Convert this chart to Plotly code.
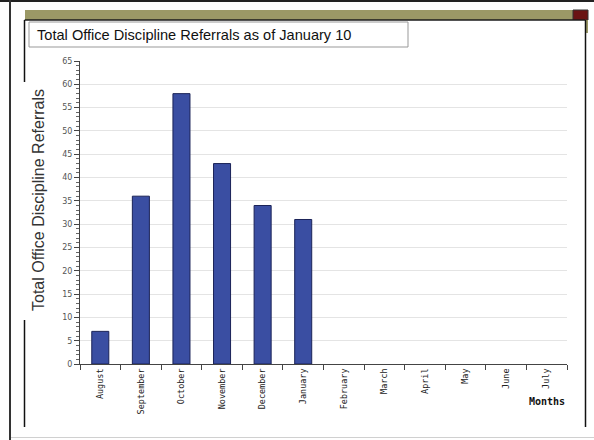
import plotly.graph_objects as go

months = ["August", "September", "October", "November", "December", "January",
          "February", "March", "April", "May", "June", "July"]
referrals = [7, 36, 58, 43, 34, 31, None, None, None, None, None, None]
y_ticks = list(range(0, 70, 5))

title_text = "Total Office Discipline Referrals as of January 10"
y_title = "Total Office Discipline Referrals"
x_title = "Months"

W, H = 594, 440
ML, MR, MT, MB = 80, 27, 61, 76
PW, PH = W - ML - MR, H - MT - MB


def px(x):
    return (x - ML) / PW


def py(y):
    return (H - MB - y) / PH


fig = go.Figure()
fig.add_trace(go.Bar(
    x=months, y=referrals,
    marker=dict(color="#3a4ea2", line=dict(color="#1b2358", width=1)),
    hoverinfo="x+y",
))

shapes = []


def rect(x0, y0, x1, y1, fill, line_color=None, lw=0):
    shapes.append(dict(type="rect", xref="paper", yref="paper",
                       x0=px(x0), x1=px(x1), y0=py(y1), y1=py(y0),
                       fillcolor=fill, line=dict(color=line_color or fill, width=lw),
                       layer="above"))


def line(x0, y0, x1, y1, color, w=1):
    shapes.append(dict(type="line", xref="paper", yref="paper",
                       x0=px(x0), x1=px(x1), y0=py(y0), y1=py(y1),
                       line=dict(color=color, width=w), layer="above"))


# slide frame
rect(0, 0, 594, 2, "#222222")
rect(9, 0, 11, 440, "#333333")
line(11, 437.5, 594, 437.5, "#d0d0d0", 1)
# header bar
rect(25, 10, 573, 20, "#9b9966")
rect(573, 10, 588, 20, "#6a1414", "#333333", 1)
rect(585, 20, 588, 33, "#9b9966")
line(25, 20, 573, 20, "#333333", 1)
# panel borders
line(24.5, 20, 24.5, 82, "#111111", 1.5)
line(24.5, 320, 24.5, 427, "#111111", 1.5)
line(24.5, 20, 585, 20, "#111111", 1)
line(585.5, 20, 585.5, 427, "#111111", 1.5)
# title box
rect(29, 22, 408, 47, "#ffffff", "#999999", 1)

annotations = [
    dict(text=title_text, xref="paper", yref="paper", x=px(35), y=py(34.5),
         xanchor="left", yanchor="middle", showarrow=False,
         font=dict(family="Liberation Sans, Arial", size=14.6, color="#111111")),
    dict(text=y_title, xref="paper", yref="paper", x=px(38), y=py(200),
         xanchor="center", yanchor="middle", textangle=-90, showarrow=False,
         font=dict(family="Liberation Sans, Arial", size=16, color="#333333")),
    dict(text="<b>" + x_title + "</b>", xref="paper", yref="paper", x=px(567), y=py(401),
         xanchor="right", yanchor="middle", showarrow=False,
         font=dict(family="DejaVu Sans Mono", size=10, color="#111111")),
]

fig.update_layout(
    width=W, height=H,
    margin=dict(l=ML, r=MR, t=MT, b=MB),
    paper_bgcolor="white", plot_bgcolor="white",
    showlegend=False,
    bargap=0.58,
    shapes=shapes,
    annotations=annotations,
    xaxis=dict(
        type="category", tickson="boundaries", ticks="outside", ticklen=5,
        tickcolor="#444444", showline=True, linecolor="#444444", linewidth=1,
        showgrid=False, tickangle=-90,
        tickfont=dict(family="DejaVu Sans Mono", size=8.5, color="#222222"),
    ),
    yaxis=dict(
        range=[0, 65], tickvals=y_ticks, ticks="outside", ticklen=5,
        tickcolor="#444444", showline=True, linecolor="#444444", linewidth=1,
        showgrid=True, gridcolor="#e4e4e4", gridwidth=1, zeroline=False,
        tickfont=dict(family="DejaVu Sans", size=8, color="#555555"),
        minor=dict(dtick=1, ticks="outside", ticklen=3, tickcolor="#666666", showgrid=False),
    ),
)

fig.write_html(
    "out.html",
    config={"displayModeBar": False},
    post_script="document.body.style.margin='0';document.body.style.overflow='hidden';",
)
